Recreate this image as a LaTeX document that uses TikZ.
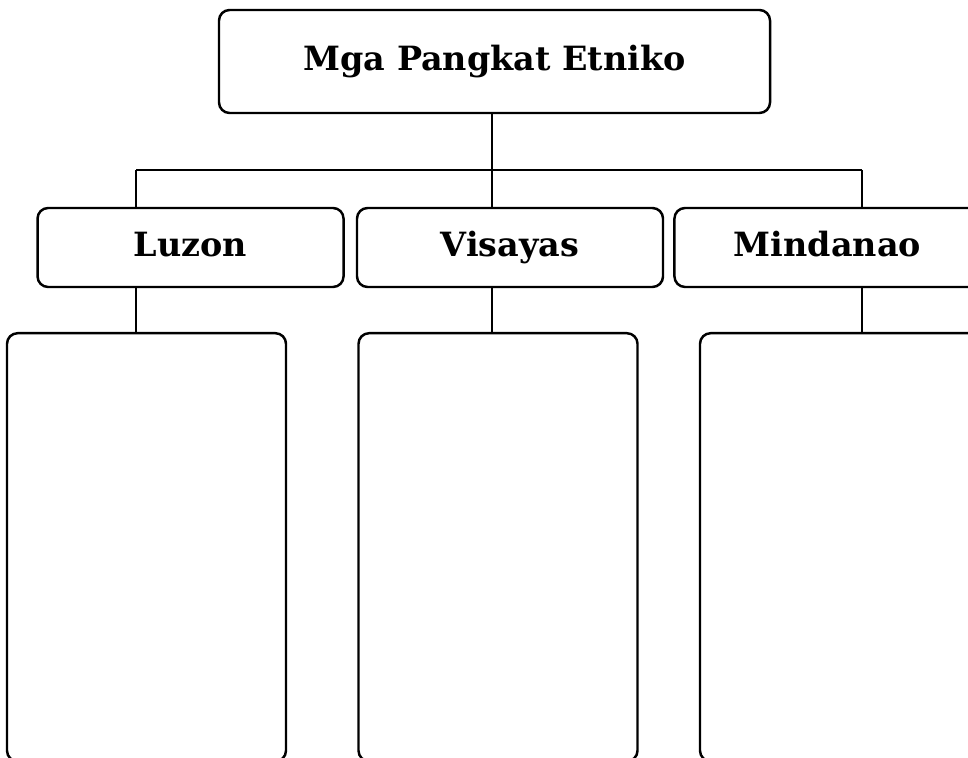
\documentclass[tikz,border=0pt]{standalone}
\usepackage{fontspec}
\setmainfont{DejaVu Serif}
\usetikzlibrary{positioning}

\begin{document}
\begin{tikzpicture}[
    line width=0.7pt,
    title/.style={draw, rounded corners=3pt, minimum width=5.51cm, minimum height=1.03cm,
      inner sep=0pt, text height=7.4pt, text depth=2pt, font=\fontsize{9.5}{11}\selectfont\bfseries},
    region/.style={draw, rounded corners=3pt, minimum width=3.06cm, minimum height=0.79cm,
      inner sep=0pt, text height=7.4pt, text depth=2pt, font=\fontsize{9.5}{11}\selectfont\bfseries},
    list/.style={draw, rounded corners=3pt, minimum width=2.79cm, minimum height=4.28cm,
      inner sep=0pt},
  ]
  \useasboundingbox (0,0) rectangle (9.68,-7.57);
  \node [title] (ethnic) at (4.945,-0.615) {Mga Pangkat Etniko};
  \node [region] (visayas) at (5.10,-2.475) {Visayas};
  \node [region, left=0.11 of visayas] (luzon) {Luzon};
  \node [region, right=0.09 of visayas] (mindanao) {Mindanao};

  \node [list, anchor=north] (luzonlist) at (1.465,-3.32) {};
  \node [list, anchor=north] (visayaslist) at (4.98,-3.32) {};
  \node [list, anchor=north] (mindanaolist) at (8.395,-3.32) {};

  \coordinate (barleft) at (1.36,-1.70);
  \coordinate (barmid) at (4.92,-1.70);
  \coordinate (barright) at (8.62,-1.70);

  \draw (ethnic.south -| barmid) -- (barmid);
  \draw (barleft) -- (barright);
  \draw (barleft) -- (barleft |- luzon.north);
  \draw (barmid) -- (barmid |- visayas.north);
  \draw (barright) -- (barright |- mindanao.north);
  \draw (barleft |- luzon.south) -- (barleft |- luzonlist.north);
  \draw (barmid |- visayas.south) -- (barmid |- visayaslist.north);
  \draw (barright |- mindanao.south) -- (barright |- mindanaolist.north);
\end{tikzpicture}
\end{document}
